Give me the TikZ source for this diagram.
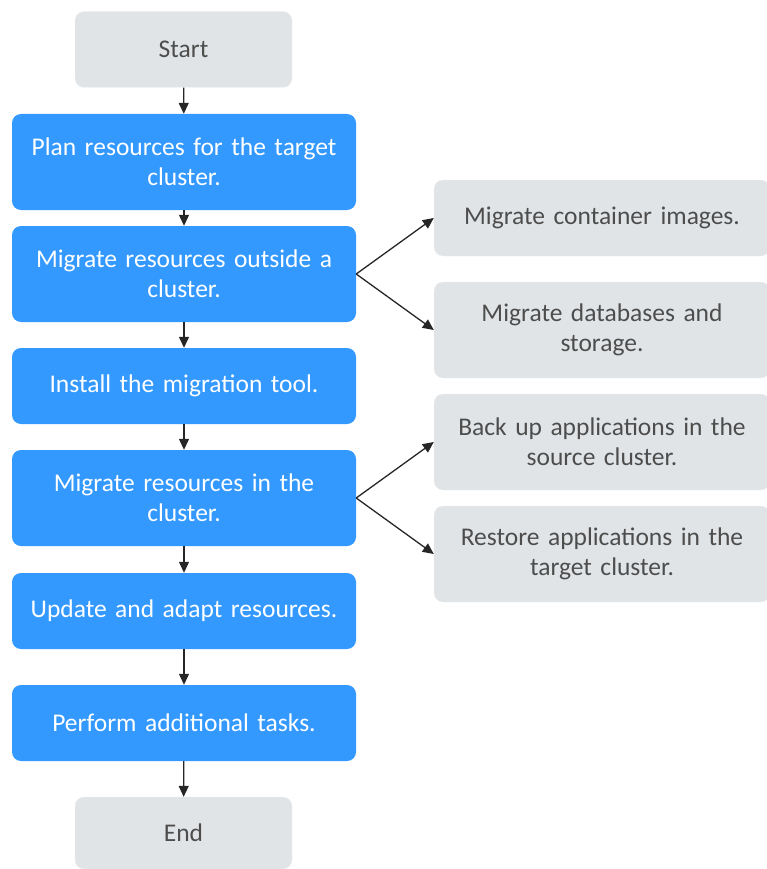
\documentclass[tikz,border=0pt]{standalone}
\usepackage{fontspec}
\setmainfont{Carlito}
\usetikzlibrary{arrows.meta}
\definecolor{stepblue}{HTML}{3399FF}
\definecolor{boxgrey}{HTML}{E1E4E6}
\definecolor{textgrey}{HTML}{4D4D4D}
\tikzset{
	base/.style = {rounded corners=9pt, minimum height=76pt, align=center, font=\fontsize{25.5}{30}\selectfont},
	stepbox/.style = {base, fill=stepblue, text=white, minimum width=344pt, text width=336pt},
	endbox/.style = {base, fill=boxgrey, draw=gray!12, text=textgrey, minimum width=217pt},
	sidebox/.style = {base, fill=boxgrey, draw=gray!12, text=textgrey, minimum width=336pt, text width=326pt},
	tall/.style = {minimum height=96pt},
	flow/.style = {-{Triangle[length=11pt,width=10pt]}, line width=1.3pt, black!85},
}
\begin{document}
\begin{tikzpicture}[x=1pt, y=-1pt]
	\useasboundingbox (0,0) rectangle (767,869);
	% main column
	\node [endbox]         (start)   at (183.5, 49.5) {Start};
	\node [stepbox, tall]  (plan)    at (184, 162)   {Plan resources for the target\\cluster.};
	\node [stepbox, tall]  (outside) at (184, 274)   {Migrate resources outside a\\cluster.};
	\node [stepbox]        (install) at (184, 386)   {Install the migration tool.};
	\node [stepbox, tall]  (inside)  at (184, 498)   {Migrate resources in the\\cluster.};
	\node [stepbox]        (update)  at (184, 611)   {Update and adapt resources.};
	\node [stepbox]        (extra)   at (184, 723)   {Perform additional tasks.};
	\node [endbox, minimum height=72pt] (end) at (183.5, 833) {End};
	% side column
	\node [sidebox]        (images)  at (602, 218)   {Migrate container images.};
	\node [sidebox, tall]  (dbs)     at (602, 330)   {Migrate databases and\\storage.};
	\node [sidebox, tall]  (backup)  at (602, 442)   {Back up applications in the\\source cluster.};
	\node [sidebox, tall]  (restore) at (602, 554)   {Restore applications in the\\target cluster.};
	% connectors
	\foreach \a/\b in {start/plan, plan/outside, outside/install, install/inside, inside/update, update/extra, extra/end}
		\draw [flow] (\a) -- (\b);
	\draw [flow] (outside.east) -- (images.west);
	\draw [flow] (outside.east) -- (dbs.west);
	\draw [flow] (inside.east) -- (backup.west);
	\draw [flow] (inside.east) -- (restore.west);
\end{tikzpicture}
\end{document}
